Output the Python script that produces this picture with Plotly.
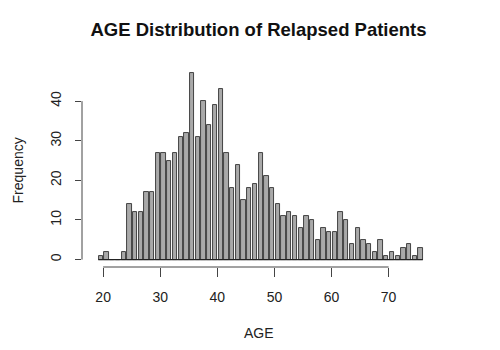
import plotly.graph_objects as go

ages = list(range(20, 77))
counts = [1, 2, 0, 0, 2, 14, 12, 12, 17, 17,
          27, 27, 25, 27, 31, 32, 47, 31, 40, 34,
          39, 43, 27, 18, 24, 15, 18, 19, 27, 21,
          18, 14, 11, 12, 11, 8, 11, 10, 5, 8,
          7, 7, 12, 10, 4, 8, 5, 4, 2, 5,
          1, 2, 1, 3, 4, 1, 3]
x_ticks = [20, 30, 40, 50, 60, 70]
y_ticks = [0, 10, 20, 30, 40]

title = "AGE Distribution of Relapsed Patients"
x_label = "AGE"
y_label = "Frequency"

font = "Liberation Sans, Arial, Helvetica, sans-serif"
axis_col = "#444444"

fig = go.Figure()
fig.add_trace(go.Bar(
    x=ages, y=counts,
    width=0.75, offset=-0.78,
    marker=dict(color="#a9a9a9", line=dict(color="#333333", width=0.9)),
    hoverinfo="x+y",
))

fig.update_layout(
    width=500, height=350,
    margin=dict(l=82, r=64, t=66, b=83),
    paper_bgcolor="white", plot_bgcolor="white",
    showlegend=False,
    bargap=0,
    font=dict(family=font, size=14, color="#222222"),
    title=dict(text="<b>" + title + "</b>", x=0.517, xanchor="center",
               y=1 - 30 / 350, yanchor="middle",
               font=dict(family=font, size=18.5, color="#111111")),
    xaxis=dict(range=[16.3, 78.3], tickvals=x_ticks, ticks="outside",
               ticklen=9, tickwidth=1, tickcolor=axis_col,
               showgrid=False, zeroline=False, showline=False,
               ticklabelstandoff=8, tickfont=dict(size=14)),
    yaxis=dict(range=[-1.88, 48.88], tickvals=y_ticks, ticks="outside",
               ticklen=6, tickwidth=1, tickcolor=axis_col,
               showgrid=False, zeroline=False, showline=False,
               tickangle=-90, ticklabelstandoff=8, tickfont=dict(size=14)),
)

# R-style axis lines spanning the tick range
fig.add_shape(type="line", xref="x", yref="paper",
              x0=x_ticks[0], x1=x_ticks[-1], y0=0, y1=0,
              line=dict(color=axis_col, width=1))
fig.add_shape(type="line", xref="paper", yref="y",
              x0=0, x1=0, y0=y_ticks[0], y1=y_ticks[-1],
              line=dict(color=axis_col, width=1))
# baseline under the bars
fig.add_shape(type="line", xref="x", yref="y",
              x0=ages[0] - 0.85, x1=ages[-1], y0=0, y1=0,
              line=dict(color="#222222", width=1.2))

fig.add_annotation(text=x_label, xref="paper", yref="paper",
                   x=0.5, y=-0.33, showarrow=False,
                   xanchor="center", yanchor="middle",
                   font=dict(size=14))
fig.add_annotation(text=y_label, xref="paper", yref="paper",
                   x=-0.181, y=0.48, showarrow=False, textangle=-90,
                   xanchor="center", yanchor="middle",
                   font=dict(size=14))

fig.write_html("out.html")
